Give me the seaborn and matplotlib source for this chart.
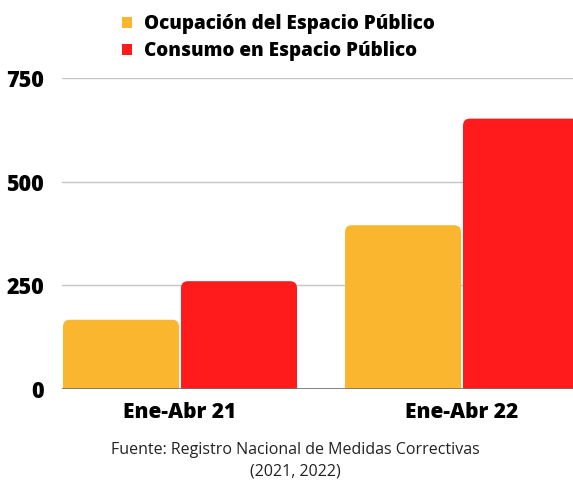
import matplotlib
matplotlib.use("Agg")
import matplotlib.pyplot as plt
from matplotlib.patches import FancyBboxPatch, Patch
import seaborn as sns
import pandas as pd

periods = ["Ene-Abr 21", "Ene-Abr 22"]
series_names = ["Ocupación del Espacio Público", "Consumo en Espacio Público"]
ocupacion = [167, 395]
consumo = [260, 652]
yticks = [0, 250, 500, 750]
source_lines = ["Fuente: Registro Nacional de Medidas Correctivas", "(2021, 2022)"]
colors = ["#F9B62E", "#FF1A1C"]

df = pd.DataFrame({
    "periodo": periods * 2,
    "serie": [series_names[0]] * 2 + [series_names[1]] * 2,
    "valor": ocupacion + consumo,
})

sns.set_theme(style="white")
plt.rcParams["font.family"] = ["Open Sans", "DejaVu Sans"]
plt.rcParams["text.color"] = "black"

W, H = 573, 482
fig = plt.figure(figsize=(W / 100, H / 100), dpi=100)
ax_left, ax_right, ax_top, ax_bot = 62, 573, 78, 389
ax = fig.add_axes([ax_left / W, 1 - ax_bot / H, (ax_right - ax_left) / W, (ax_bot - ax_top) / H])

width = 0.837
sns.barplot(data=df, x="periodo", y="valor", hue="serie", palette=colors,
            width=width, gap=0.017, legend=False, ax=ax, saturation=1)

ax.set_ylim(0, 750)
ax.set_xlim(-width / 2, (ax_right - 180) / 282)

# rounded top corners
px_per_x = 282.0
px_per_y = (ax_bot - ax_top) / 750.0
r_px = 7.0
rx = r_px / px_per_x
ry = r_px / px_per_y
for p in list(ax.patches):
    x, w, h = p.get_x(), p.get_width(), p.get_height()
    fc = p.get_facecolor()
    p.remove()
    fb = FancyBboxPatch((x, -ry), w, h + ry,
                        boxstyle=f"round,pad=0,rounding_size={rx}",
                        mutation_aspect=ry / rx, fc=fc, ec="none", zorder=2)
    ax.add_patch(fb)

ax.set_yticks(yticks)
ax.set_yticklabels([str(v) for v in yticks])
ax.yaxis.grid(True, color="#c4c4c4", lw=1)
ax.set_axisbelow(True)
ax.axhline(0, color="#707070", lw=1.2, zorder=3)
for s in ax.spines.values():
    s.set_visible(False)
ax.tick_params(axis="y", length=0, pad=13, labelsize=15.5)
ax.tick_params(axis="x", length=0, pad=9, labelsize=15)
for lab in ax.get_yticklabels() + ax.get_xticklabels():
    lab.set_fontweight("heavy")
    lab.set_color("black")
ax.set_xlabel("")
ax.set_ylabel("")

handles = [Patch(facecolor=c, edgecolor="none") for c in colors]
leg = fig.legend(handles, series_names, loc="upper left", bbox_to_anchor=(122 / W, 1 - 14 / H),
                 frameon=False, handlelength=0.52, handleheight=0.52, handletextpad=0.62,
                 labelspacing=0.38, borderpad=0, borderaxespad=0,
                 prop={"weight": "heavy", "size": 13.6})
for t in leg.get_texts():
    t.set_color("black")

fig.text(295 / W, 1 - 450 / H, source_lines[0], ha="center", va="center", fontsize=11.5, color="#222222")
fig.text(295 / W, 1 - 472 / H, source_lines[1], ha="center", va="center", fontsize=11.5, color="#222222")

fig.savefig("out.png", dpi=100)
